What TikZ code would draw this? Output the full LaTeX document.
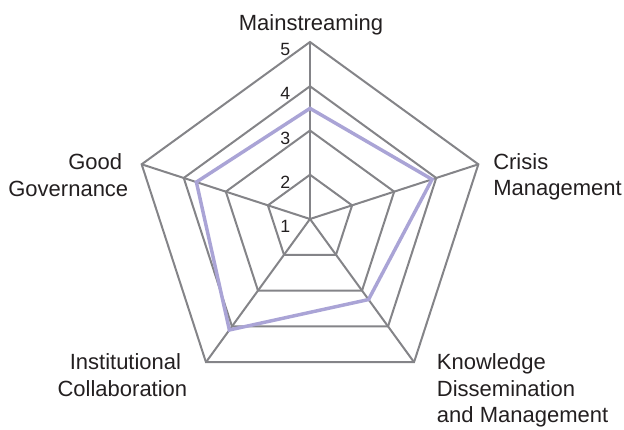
\documentclass[tikz,border=0pt]{standalone}
\usepackage{fontspec}
\setmainfont{Liberation Sans}
\usetikzlibrary{calc}
\definecolor{gridgray}{RGB}{132,132,136}
\definecolor{serieslav}{RGB}{170,164,214}
\definecolor{labeltext}{RGB}{35,31,32}

\begin{document}
\begin{tikzpicture}[x=0.75pt,y=0.75pt,
    gridline/.style={draw=gridgray,line width=1.5pt,line join=miter},
    axisline/.style={draw=gridgray,line width=2.2pt},
    series/.style={draw=serieslav,line width=2.6pt,line join=miter},
    catlabel/.style={inner sep=0pt,text=labeltext,font=\fontsize{16.5}{20}\selectfont},
    ticklabel/.style={inner sep=0pt,anchor=east,text=labeltext,font=\fontsize{13.3}{16}\selectfont}]
    \useasboundingbox (0,0) rectangle (624,429);
    \def\ringgap{44.25}

    \begin{scope}[shift={(310,210)}]
      \coordinate (O) at (0,0);
      \coordinate (ms) at (90:{4*\ringgap});
      \coordinate (cm) at (18:{4*\ringgap});
      \coordinate (kd) at (-54:{4*\ringgap});
      \coordinate (ic) at (-126:{4*\ringgap});
      \coordinate (gg) at (162:{4*\ringgap});

      \foreach \k in {1,...,4}
        \draw[gridline] (90:{\k*\ringgap})--(18:{\k*\ringgap})--(-54:{\k*\ringgap})
          --(-126:{\k*\ringgap})--(162:{\k*\ringgap})--cycle;
      \draw[gridline] (O)--(cm) (O)--(kd) (O)--(ic) (O)--(gg);
      \draw[axisline] (O)--(ms);

      \coordinate (vms) at (90:{2.5*\ringgap});
      \coordinate (vcm) at (18:{2.9*\ringgap});
      \coordinate (vkd) at (-54:{2.25*\ringgap});
      \coordinate (vic) at (-126:{3.1*\ringgap});
      \coordinate (vgg) at (162:{2.7*\ringgap});
      \draw[series] (vms)--(vcm)--(vkd)--(vic)--(vgg)--cycle;

      \foreach \k in {1,...,5}
        \node[ticklabel] (tick\k) at (-19.4,{(\k-1)*\ringgap-7.5}) {\k};
    \end{scope}

    \node[catlabel,anchor=north] (lms) at (311,415) {Mainstreaming};
    \node[catlabel,anchor=north west,align=left] (lcm) at (493,276) {Crisis\\Management};
    \node[catlabel,anchor=north west,align=left] (lkd) at (436.7,75.7) {Knowledge\\Dissemination\\and Management};
    \node[catlabel,anchor=north east,align=right] (lic) at (187.5,75.7) {Institutional\hspace*{0.28em}\\Collaboration};
    \node[catlabel,anchor=north east,align=right] (lgg) at (128.5,275.7) {Good\hspace*{0.28em}\\Governance};
  \end{tikzpicture}
\end{document}
